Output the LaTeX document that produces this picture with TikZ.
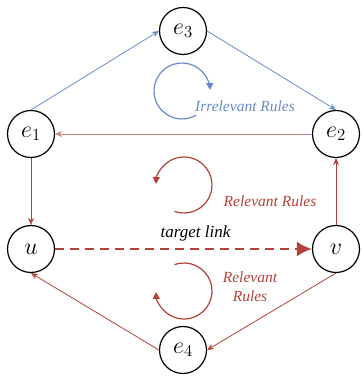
\RequirePackage{fix-cm}
\documentclass[tikz,border=0pt]{standalone}
\usepackage{fontspec}
\setmainfont{Liberation Serif}
\usepackage{xcolor}
\usetikzlibrary{arrows.meta}

\definecolor{RuleBlue}{RGB}{104,140,200}
\definecolor{RuleRed}{RGB}{180,66,56}
\definecolor{LightRed}{RGB}{208,130,124}

\begin{document}
\begin{tikzpicture}[
        x=1pt, y=1pt,
        % Environment Config
        Entity/.style={% Style for the entity nodes
          draw,
          circle,
          line width=1.2pt,
          minimum size=47pt,
          inner sep=0pt,
          font=\fontsize{24}{26}\selectfont
        },
        BlueEdge/.style={% Style for irrelevant edges
          -{Stealth[length=7pt,width=6pt]},
          RuleBlue,
          line width=0.8pt
        },
        RedEdge/.style={% Style for relevant edges
          -{Stealth[length=7pt,width=6pt]},
          RuleRed,
          line width=0.8pt
        },
        TargetEdge/.style={% Style for the target link
          -{Latex[length=15pt,width=15pt]},
          RuleRed,
          line width=2.6pt,
          dash pattern=on 9pt off 6pt
        },
        Loop/.style={% Style for the rule loops
          -{Triangle[length=7pt,width=7pt]},
          line width=1.2pt
        },
        RuleText/.style={% Style for the rule labels
          font=\fontsize{15.5}{19}\itshape,
          align=center
        }
      ]

      \useasboundingbox (0,0) rectangle (361,379);

      % Put the entities in position
      \node[Entity] (e3) at (183,348) {$e_3$};
      \node[Entity] (e1) at (31,245) {$e_1$};
      \node[Entity] (e2) at (336,245) {$e_2$};
      \node[Entity] (u) at (31,130) {$u$};
      \node[Entity] (v) at (336,130) {$v$};
      \node[Entity] (e4) at (183,29) {$e_4$};

      % Loop centres
      \coordinate (LoopTop) at (182,288);
      \coordinate (LoopMid) at (184,194);
      \coordinate (LoopLow) at (184,88);

      % Draw the edges
      %===Irrelevant===
      \draw[BlueEdge] (e1.north) -- (e3.west);
      \draw[BlueEdge] (e3.east) -- (e2.north);

      %===Relevant===
      \draw[RedEdge,LightRed] (e2.west) -- (e1.east);
      \draw[RedEdge] (e1.south) -- (u.north);
      \draw[RedEdge] (v.north) -- (e2.south);
      \draw[RedEdge] (v.south) -- (e4.east);
      \draw[RedEdge] (e4.west) -- (u.south);

      %===Target link===
      \draw[TargetEdge] (u.east) -- (v.west)
          node [
              midway,
              above=3pt,
              xshift=12pt,
              text=black,
              font=\fontsize{17}{20}\itshape
          ]{target link};

      % Draw the rule loops
      \draw[Loop,RuleBlue] ([shift={(-60:28)}]LoopTop) arc[start angle=-60, end angle=-358, radius=28];
      \draw[Loop,RuleRed] ([shift={(-110:28)}]LoopMid) arc[start angle=-110, end angle=178, radius=28];
      \draw[Loop,RuleRed] ([shift={(110:28)}]LoopLow) arc[start angle=110, end angle=-178, radius=28];

      % Rule labels
      \node[RuleText,RuleBlue] (IrrText) at (245,273) {Irrelevant Rules};
      \node[RuleText,RuleRed] (RelTextA) at (270,178) {Relevant Rules};
      \node[RuleText,RuleRed] (RelTextB) at (250,92) {Relevant\\Rules};

      \end{tikzpicture}
\end{document}
